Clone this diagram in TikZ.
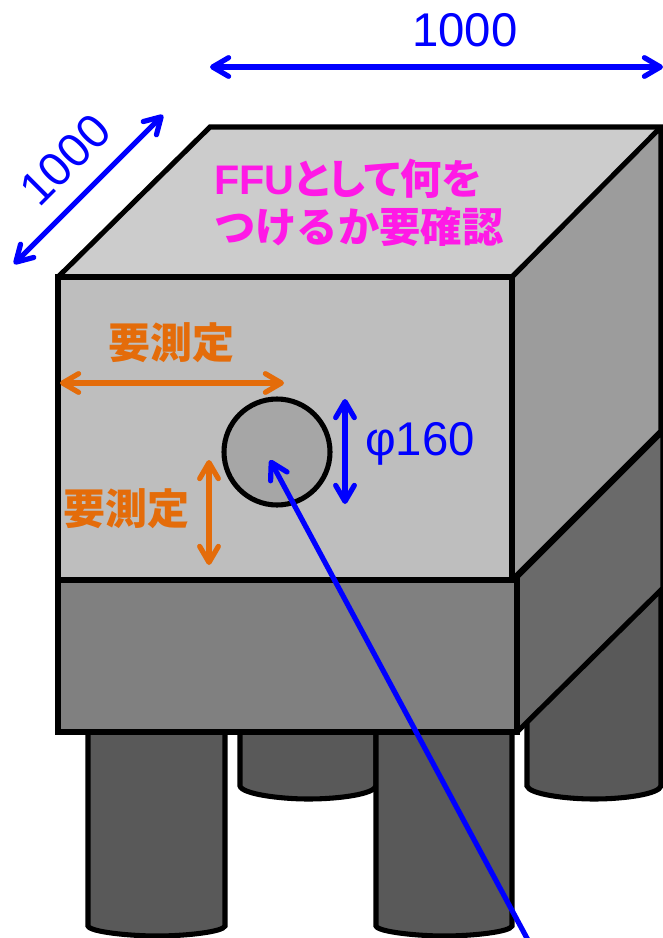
\documentclass[tikz,border=0pt]{standalone}
\usepackage{fontspec}
\setmainfont{Liberation Sans}
\newfontfamily\cjk{Noto Sans CJK JP}
\newfontfamily\cjkp[RawFeature=+palt]{Noto Sans CJK JP}
\usetikzlibrary{arrows.meta}
\definecolor{dimblue}{RGB}{0,0,255}
\definecolor{dimorange}{RGB}{228,108,10}
\definecolor{notepink}{RGB}{255,25,230}
\tikzset{
  edge/.style={draw=black,line width=3.8pt,line join=miter,miter limit=1.5},
  barb/.tip={Straight Barb[length=12pt,width=14pt,line width=3.9pt,round]},
  dimline/.style={line width=3.9pt,line cap=round,barb-barb},
  dimtext/.style={inner sep=0pt,anchor=base,font=\fontsize{35.5}{35.5}\selectfont,text=dimblue},
  measuretext/.style={inner sep=0pt,anchor=base,font=\cjk\bfseries\fontsize{31.5}{31.5}\selectfont,text=dimorange},
  notetext/.style={inner sep=0pt,anchor=base west,font=\bfseries\fontsize{31}{31}\selectfont,text=notepink}
}
\begin{document}
\begin{tikzpicture}[x=0.75pt,y=-0.75pt]
\useasboundingbox (0,0) rectangle (663,938);
% back legs
\fill[white] (0,0) rectangle (663,938);
\filldraw[edge,fill=black!65] (240,725) -- (240,786) .. controls (242,794) and (280,799) .. (308,799) .. controls (340,799) and (374,794) .. (376,786) -- (376,725);
\filldraw[edge,fill=black!65] (527,715) -- (527,786) .. controls (529,794) and (565,799) .. (594,799) .. controls (625,799) and (659,794) .. (661,786) -- (661,580) -- (527,715);
% front legs
\filldraw[edge,fill=black!65] (88,725) -- (88,926) .. controls (90,932) and (130,936) .. (157,936) .. controls (185,936) and (223,932) .. (225,926) -- (225,725);
\filldraw[edge,fill=black!65] (376,725) -- (376,926) .. controls (378,932) and (418,936) .. (444,936) .. controls (472,936) and (510,932) .. (512,926) -- (512,725);
% base
\filldraw[edge,fill=black!58.5] (514,580) -- (663,431) -- (663,588) -- (517,732) -- (517,580);
\filldraw[edge,fill=black!50] (58,580) rectangle (517,732);
% box
\filldraw[edge,fill=black!20] (58,277) -- (210,127) -- (663,127) -- (512,277) -- cycle;
\filldraw[edge,fill=black!39] (512,277) -- (661,127) -- (661,431) -- (514,578) -- (512,578) -- cycle;
\filldraw[edge,fill=black!25.5] (58,277) rectangle (512,580);
\filldraw[edge,fill=black!35] (277,452) circle (53);
% labels
\coordinate (widthL) at (210,67);\coordinate (widthR) at (663,67);
\coordinate (depthF) at (14,264);\coordinate (depthB) at (163,115);
\coordinate (holeT) at (345,399);\coordinate (holeB) at (345,504);
\coordinate (sideL) at (60,383);\coordinate (sideR) at (284,383);
\coordinate (floorT) at (209,460);\coordinate (floorB) at (209,565);
\coordinate (pointTip) at (270,460);\coordinate (pointEnd) at (529,942);
\draw[dimline,dimblue] (widthL) -- (widthR);
\draw[dimline,dimblue] (depthF) -- (depthB);
\draw[dimline,dimblue] (holeT) -- (holeB);
\draw[dimline,dimorange] (sideL) -- (sideR);
\draw[dimline,dimorange] (floorT) -- (floorB);
\draw[line width=3.9pt,dimblue,barb-] (pointTip) -- (pointEnd);
\node[dimtext] (widthlabel) at (465,47) {1000};
\node[dimtext,rotate=45,anchor=center] (depthlabel) at (65,160) {1000};
\node[dimtext,anchor=base west] (holelabel) at (365,455) {φ160};
\node[measuretext] (sidelabel) at (171,358) {\cjk 要測定};
\node[measuretext] (floorlabel) at (126,524) {\cjk 要測定};
\node[notetext] (noteone) at (214,195) {FFU{\cjkp として何を}};
\node[notetext] (notetwo) at (214,242) {\cjk つけるか要確認};
\end{tikzpicture}
\end{document}
